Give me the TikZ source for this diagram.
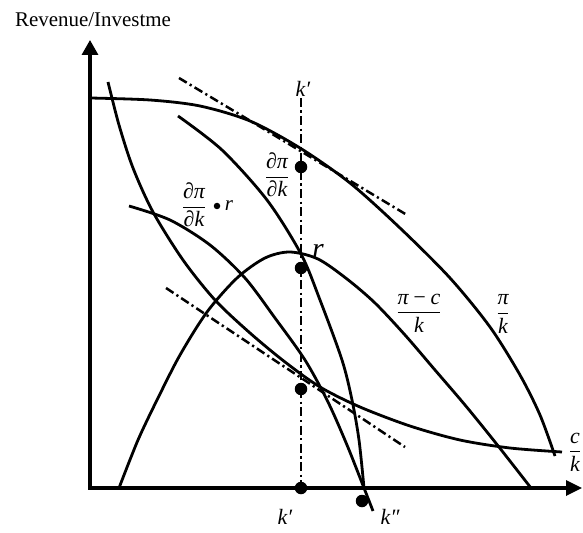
\documentclass[tikz,border=0pt]{standalone}
\usepackage{amsmath}
\usepackage{fontspec}
\setmainfont{Liberation Serif}
\usetikzlibrary{arrows.meta}
\newcommand{\lit}[1]{\text{\itshape #1}}
\begin{document}
\begin{tikzpicture}[x=1bp,y=-1bp,
  curve/.style={line width=2.8bp, line join=round},
  axisline/.style={line width=3.3bp},
  dashdot/.style={line width=2.5bp, dash pattern=on 9bp off 3.5bp on 2.2bp off 3.5bp},
  bigdot/.style={circle, fill=black, inner sep=0pt, minimum size=12.5bp},
  smalldot/.style={circle, fill=black, inner sep=0pt, minimum size=6.5bp},
  lbl/.style={inner sep=0pt, font=\fontsize{22}{26}\selectfont},
  biglbl/.style={inner sep=0pt, font=\fontsize{22}{26}\selectfont\itshape},
]
\useasboundingbox (0,0) rectangle (583,533);

% axis title
\node[anchor=base west, inner sep=0pt, font=\fontsize{21}{25}\selectfont] (ytitle) at (15,27) {Revenue/Investme};

% axes
\draw[axisline, {Triangle[length=15bp,width=16bp]}-{Triangle[length=16bp,width=15bp]}]
  (90,40) -- (90,488) -- (582,488);

% pi/k
\draw[curve] plot[smooth] coordinates {(90,98) (150,100) (200,106) (250,121) (300,148) (350,183) (400,228) (450,278) (490,327) (520,375) (540,415) (555,456)};
% B : d pi / d k
\draw[curve] plot[smooth] coordinates {(178,116) (222,150) (267,200) (301,254) (320,300) (342,360) (352,400) (359,440) (364,488)};
% C : c/k
\draw[curve] plot[smooth] coordinates {(108,82) (119,125) (133,168) (153,212) (183,260) (215,300) (250,333) (285,362) (320,387) (360,407) (410,426) (460,440) (510,448) (562,452)};
% D
\draw[curve] plot[smooth] coordinates {(129,206) (170,220) (210,245) (245,278) (275,318) (305,360) (328,402) (347,445) (364,488) (373,511)};
% H : hump / (pi-c)/k
\draw[curve] plot[smooth] coordinates {(119,488) (138,440) (158,398) (180,355) (207,312) (237,278) (265,258) (290,252) (318,259) (347,279) (375,303) (405,335) (435,370) (465,405) (495,442) (531,488)};

% tangents
\coordinate (t1a) at (179,78);
\coordinate (t1b) at (407,215);
\coordinate (t2a) at (166,288);
\coordinate (t2b) at (405,447);
\draw[dashdot] (t1a) -- (t1b);
\draw[dashdot] (t2a) -- (t2b);

% dots
\node[bigdot] (d1) at (301,167) {};
\node[bigdot] (d2) at (301,268) {};
\node[bigdot] (d3) at (301,389) {};
\node[bigdot] (d4) at (301,488) {};
\node[bigdot] (d5) at (362,501) {};

% vertical dash-dot line
\node[biglbl] (ktop) at (303,89) {k′};
\coordinate (vtop) at (301,98);
\draw[dashdot] (vtop) -- (d4.center);

% labels
\node[lbl] (lmarg) at (277,175) {$\dfrac{\lit{∂π}}{\lit{∂k}}$};
\node[lbl] (lmr) at (194,205) {$\dfrac{\lit{∂π}}{\lit{∂k}}$};
\node[smalldot] (sdot) at (217,206) {};
\node[lbl, font=\fontsize{21}{24}\selectfont\itshape] (lr) at (229,206) {r};
\node[inner sep=0pt, font=\fontsize{30}{34}\selectfont\itshape] (rbig) at (318,251) {r};
\node[lbl] (lpc) at (419,313) {$\dfrac{\lit{π\,−\,c}}{\lit{k}}$};
\node[lbl] (lpk) at (503,314) {$\dfrac{\lit{π}}{\lit{k}}$};
\node[lbl] (lck) at (575,452) {$\dfrac{\lit{c}}{\lit{k}}$};
\node[biglbl] (kb1) at (285,517) {k′};
\node[biglbl] (kb2) at (390,517) {k″};
\end{tikzpicture}
\end{document}
